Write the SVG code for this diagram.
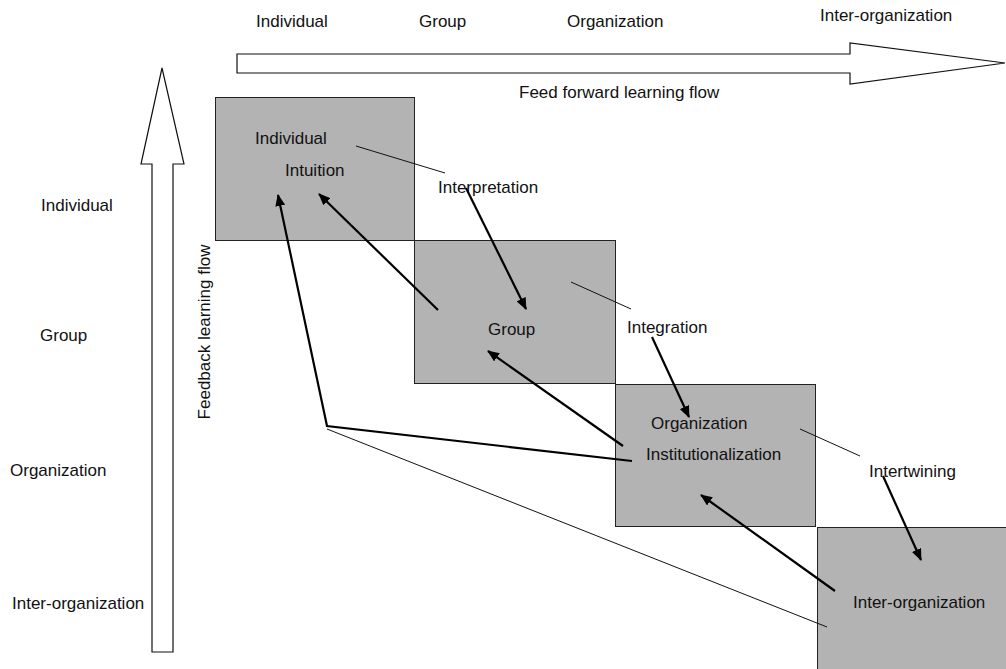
<svg xmlns="http://www.w3.org/2000/svg" width="1006" height="669" viewBox="0 0 1006 669">
  <style>
    text { font-family: "Liberation Sans", Arial, sans-serif; font-size: 17px; fill: #111; }
    .box { fill: #b3b3b3; stroke: #222; stroke-width: 1; }
    .flow { fill: #fff; stroke: #111; stroke-width: 1.2; }
    .thin { stroke: #111; stroke-width: 1; fill: none; }
    .thick { stroke: #000; stroke-width: 2.2; fill: none; }
  </style>
  <defs>
    <marker id="head" viewBox="0 0 12 10" refX="11" refY="5" markerWidth="12" markerHeight="10" markerUnits="userSpaceOnUse" orient="auto">
      <path d="M0,0 L12,5 L0,10 Z" fill="#000"/>
    </marker>
  </defs>
  <rect width="1006" height="669" fill="#fff"/>

  <!-- big flow arrows -->
  <g id="feed-forward">
    <polygon class="flow" points="237,54 850,54 850,43 1005,63 850,84 850,73 237,73"/>
    <text x="519" y="98">Feed forward learning flow</text>
  </g>
  <g id="feedback">
    <polygon class="flow" points="152,652 152,164 141,164 162,68 184,164 173,164 173,652"/>
    <text transform="translate(210,332) rotate(-90)" text-anchor="middle">Feedback  learning flow</text>
  </g>

  <!-- level labels -->
  <g id="top-labels">
    <text x="256" y="27">Individual</text>
    <text x="419" y="27">Group</text>
    <text x="567" y="27">Organization</text>
    <text x="820" y="21">Inter-organization</text>
  </g>
  <g id="side-labels">
    <text x="41" y="211">Individual</text>
    <text x="40" y="341">Group</text>
    <text x="10" y="476">Organization</text>
    <text x="12" y="609">Inter-organization</text>
  </g>

  <!-- level boxes -->
  <g id="box-individual">
    <rect class="box" x="215.5" y="97.5" width="199" height="143"/>
    <text x="255" y="144">Individual</text>
    <text x="285" y="176">Intuition</text>
  </g>
  <g id="box-group">
    <rect class="box" x="414.5" y="240.5" width="201" height="143"/>
    <text x="488" y="335">Group</text>
  </g>
  <g id="box-organization">
    <rect class="box" x="615.5" y="384.5" width="200" height="142"/>
    <text x="651" y="429">Organization</text>
    <text x="646" y="460">Institutionalization</text>
  </g>
  <g id="box-interorg">
    <rect class="box" x="817.5" y="527.5" width="190" height="143"/>
    <text x="853" y="608">Inter-organization</text>
  </g>

  <!-- process labels -->
  <g id="process-labels">
    <text x="438" y="193">Interpretation</text>
    <text x="627" y="333">Integration</text>
    <text x="869" y="477">Intertwining</text>
  </g>

  <!-- connectors -->
  <g id="connectors">
    <line class="thin" x1="356" y1="146" x2="445" y2="173"/>
    <line class="thin" x1="571" y1="282" x2="631" y2="309"/>
    <line class="thin" x1="800" y1="429" x2="860" y2="456"/>

    <line class="thick" x1="466" y1="188" x2="526" y2="309" marker-end="url(#head)"/>
    <line class="thick" x1="652" y1="337" x2="689" y2="417" marker-end="url(#head)"/>
    <line class="thick" x1="883" y1="476" x2="921" y2="560" marker-end="url(#head)"/>

    <line class="thick" x1="438" y1="310" x2="319" y2="194" marker-end="url(#head)"/>
    <line class="thick" x1="623" y1="446" x2="488" y2="351" marker-end="url(#head)"/>
    <line class="thick" x1="835" y1="591" x2="701" y2="495" marker-end="url(#head)"/>

    <polyline class="thick" points="632,461 327,426 278,195" marker-end="url(#head)"/>
    <line class="thin" x1="327" y1="429" x2="827" y2="627"/>
  </g>
</svg>
